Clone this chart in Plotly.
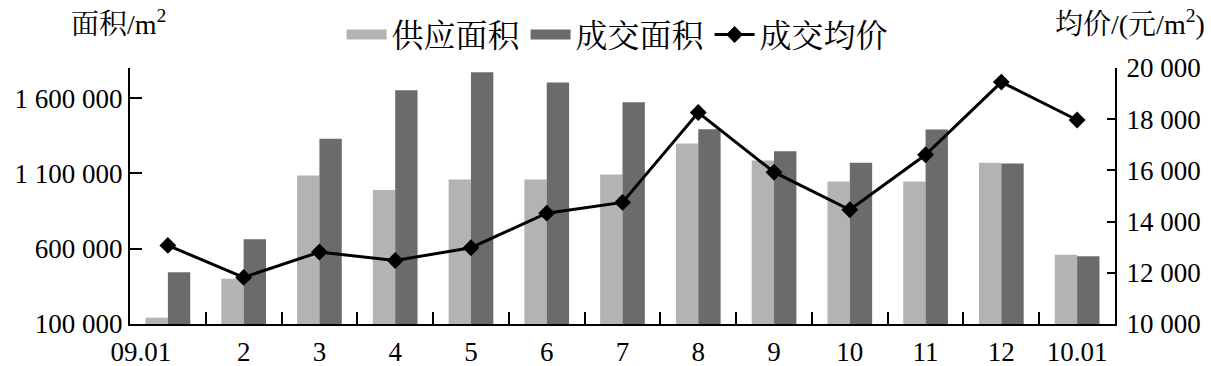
import plotly.graph_objects as go

months = ["09.01", "2", "3", "4", "5", "6", "7", "8", "9", "10", "11", "12", "10.01"]
supply_area = [142000, 401000, 1086000, 990000, 1059000, 1059000, 1093000, 1298000, 1186000, 1046000, 1046000, 1171000, 560000]
deal_area = [443000, 662000, 1331000, 1653000, 1771000, 1704000, 1572000, 1394000, 1247000, 1171000, 1392000, 1166000, 550000]
avg_price = [13070, 11820, 12810, 12480, 12980, 14330, 14750, 18260, 15930, 14460, 16610, 19450, 17970]

left_ticks = [100000, 600000, 1100000, 1600000]
right_ticks = [10000, 12000, 14000, 16000, 18000, 20000]

FONT = "Liberation Serif, 'Noto Serif CJK SC', 'Noto Sans CJK SC', serif"
LIGHT = "#b3b3b3"
DARK = "#6b6b6b"

# the first month label sits slightly left of its category in the reference
x_ticktext = [months[0] + "\u00a0" * 8] + months[1:]

fig = go.Figure()
fig.add_trace(go.Bar(x=months, y=supply_area, name="供应面积", marker_color=LIGHT, marker_line_width=0,
                     showlegend=False, legendgroup="s"))
fig.add_trace(go.Bar(x=months, y=deal_area, name="成交面积", marker_color=DARK, marker_line_width=0,
                     showlegend=False, legendgroup="d"))
fig.add_trace(go.Scatter(x=months, y=avg_price, name="成交均价", yaxis="y2", mode="lines+markers",
                         line=dict(color="black", width=3),
                         marker=dict(symbol="diamond", size=13, color="black"), showlegend=False))
# legend-only entries (wide swatches like the reference)
fig.add_trace(go.Scatter(x=[None], y=[None], name="供应面积", mode="lines",
                         line=dict(color=LIGHT, width=22), legendgroup="s"))
fig.add_trace(go.Scatter(x=[None], y=[None], name="成交面积", mode="lines",
                         line=dict(color=DARK, width=22), legendgroup="d"))
fig.add_trace(go.Scatter(x=[None], y=[None], name="成交均价", mode="lines+markers",
                         line=dict(color="black", width=3),
                         marker=dict(symbol="diamond", size=13, color="black")))

fig.update_layout(
    width=1211, height=366,
    margin=dict(l=130, r=96, t=68, b=42, autoexpand=False),
    paper_bgcolor="white", plot_bgcolor="white",
    font=dict(family=FONT, size=27, color="black"),
    separators=". ",
    barmode="group", bargap=0.41, bargroupgap=0,
    showlegend=True,
    legend=dict(orientation="h", x=0.495, xanchor="center", y=1.13, yanchor="middle",
                font=dict(size=32), itemwidth=40, bgcolor="rgba(0,0,0,0)", tracegroupgap=0),
    xaxis=dict(type="category", range=[-0.5, len(months) - 0.5], autorange=False,
               tickmode="array", tickvals=months, ticktext=x_ticktext, tickangle=0,
               showline=True, linecolor="black", linewidth=2, automargin=False,
               ticks="inside", tickson="boundaries", ticklen=12, tickwidth=2, tickcolor="black",
               showgrid=False, tickfont=dict(size=27), ticklabelstandoff=3),
    yaxis=dict(range=[100000, 1800000], tickvals=left_ticks, tickformat=",d", automargin=False,
               showline=True, linecolor="black", linewidth=2, ticks="inside", ticklen=12,
               tickwidth=2, tickcolor="black", showgrid=False, zeroline=False, tickfont=dict(size=27)),
    yaxis2=dict(range=[10000, 20000], tickvals=right_ticks, tickformat=",d", overlaying="y", side="right",
                automargin=False, showline=True, linecolor="black", linewidth=2, ticks="inside", ticklen=8,
                tickwidth=2, tickcolor="black", showgrid=False, zeroline=False, tickfont=dict(size=27),
                ticklabelstandoff=4),
    annotations=[
        dict(text="面积/m<sup>2</sup>", xref="paper", yref="paper", x=-0.062, y=1.0,
             xanchor="left", yanchor="bottom", yshift=26, showarrow=False, font=dict(size=28)),
        dict(text="均价/(元/m<sup>2</sup>)", xref="paper", yref="paper", x=1.093, y=1.0,
             xanchor="right", yanchor="bottom", yshift=26, showarrow=False, font=dict(size=28)),
    ],
)

fig.write_html("out.html")
